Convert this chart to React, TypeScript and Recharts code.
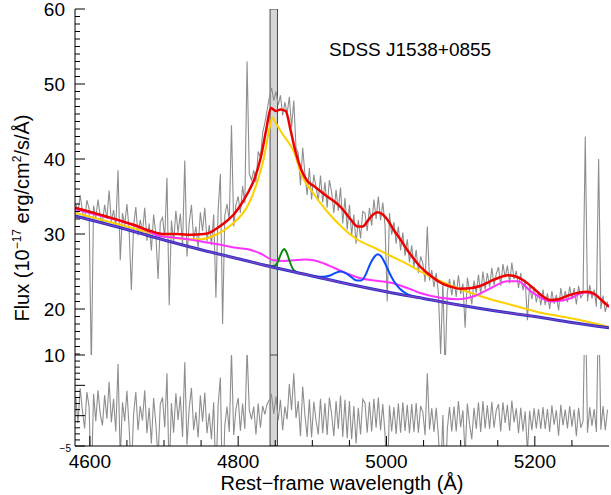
import React from 'react';
import { LineChart, Line, XAxis, YAxis, ReferenceArea } from 'recharts';

// ---------- data ----------
const WAVE_START = 4581;
const WAVE_STEP = 3;

const FLUX = [
  34.1, 32.8, 35.2, 33.0, 31.9, 34.5, 33.4, 12.0, 33.8, 32.1,
  34.6, 32.4, 31.5, 33.9, 32.0, 35.8, 31.6, 33.2, 30.9, 38.5,
  26.5, 32.8, 31.2, 34.0, 30.5, 22.5, 31.1, 33.6, 29.8, 31.9,
  30.2, 33.5, 29.1, 31.4, 27.8, 32.6, 30.0, 24.0, 31.6, 32.2,
  29.5, 37.5, 20.5, 31.8, 28.9, 33.1, 30.2, 32.7, 28.4, 39.8,
  27.0, 31.5, 33.9, 29.2, 31.0, 28.1, 32.9, 30.4, 33.5, 29.0,
  31.2, 28.5, 32.6, 21.5, 33.2, 38.0, 18.0, 32.5, 34.0, 31.8,
  44.5, 31.0, 33.9, 35.0, 32.8, 36.4, 34.1, 53.0, 38.0, 37.2,
  38.5, 36.9, 41.0, 40.2, 43.5, 44.8, 46.5, 48.2, 49.5, 47.8,
  49.0, 47.2, 48.5, 45.8, 47.6, 46.0, 48.3, 44.2, 47.8, 41.5,
  40.8, 36.5, 41.5, 38.0, 35.2, 38.8, 34.6, 37.9, 36.3, 34.4,
  37.8, 34.2, 36.9, 33.5, 37.2, 35.6, 32.8, 35.9, 33.1, 36.2,
  31.4, 34.8, 30.6, 33.9, 29.8, 32.6, 28.7, 31.9, 29.4, 33.0,
  32.8, 30.4, 33.5, 31.1, 34.6, 32.0, 35.0, 31.8, 34.2, 31.2,
  21.0, 32.8, 29.9, 31.6, 28.7, 31.0, 27.8, 30.2, 27.1, 29.3,
  26.2, 28.5, 25.6, 27.9, 24.8, 27.0, 26.1, 23.6, 31.0, 23.8,
  25.2, 22.9, 24.8, 22.1, 14.0, 23.6, 11.5, 22.3, 24.0, 21.8,
  23.9, 21.6, 24.5, 22.0, 23.4, 17.5, 24.2, 22.5, 20.6, 23.8,
  22.1, 24.6, 21.9, 25.0, 22.6, 24.8, 22.9, 25.5, 23.2, 24.7,
  25.6, 23.1, 26.0, 24.2, 25.8, 23.4, 26.2, 24.0, 25.1, 22.8,
  24.8, 22.5, 23.9, 18.5, 23.3, 21.3, 23.0, 20.9, 22.4, 20.5,
  22.6, 20.5, 22.1, 20.0, 22.4, 20.7, 21.9, 19.8, 22.8, 21.0,
  22.4, 20.9, 23.0, 21.3, 22.8, 20.6, 23.1, 21.5, 22.0, 43.0,
  21.0, 23.2, 21.4, 22.6, 20.3, 40.0, 20.0, 21.8, 19.6, 21.0,
];

const RESID = [
  3.1, -1.2, 4.5, 0.8, -2.1, 3.9, 1.5, -12.0, 3.6, -0.9,
  4.2, 0.3, -1.6, 3.4, -0.5, 5.6, -1.1, 2.8, -2.6, 8.5,
  -7.0, 2.2, -0.9, 4.1, -2.0, -9.5, 0.2, 3.9, -2.4, 1.6,
  -0.8, 4.2, -2.9, 1.3, -4.6, 2.9, -1.3, -7.2, 1.9, 3.0,
  -1.9, 7.0, -10.0, 2.1, -2.8, 3.7, -0.7, 3.2, -3.5, 8.8,
  -4.8, 1.2, 4.6, -2.4, 0.6, -3.6, 3.3, -1.0, 3.8, -2.9,
  0.4, -3.9, 2.2, -11.0, 1.8, 6.3, -14.0, -1.6, 1.5, -2.7,
  10.5, -3.2, 1.1, 2.9, -2.5, 2.0, -2.2, 11.0, 0.9, -0.6,
  1.5, -3.1, 2.0, -2.0, 1.6, 0.2, 1.9, 2.6, 3.4, 0.3,
  3.2, -0.8, 2.6, -2.4, 1.5, -0.6, 5.2, 0.9, 7.0, -0.4,
  2.4, -3.4, 4.8, 0.1, -3.5, 2.7, -3.6, 2.3, -0.8, -3.1,
  2.8, -2.9, 2.1, -3.2, 3.0, 0.2, -3.4, 2.4, -2.2, 3.3,
  -3.5, 2.6, -3.7, 2.4, -3.9, 1.6, -4.6, 1.3, -3.1, 2.7,
  2.1, -2.8, 2.3, -2.6, 2.8, -2.0, 3.0, -2.4, 1.9, -3.0,
  -12.5, 1.7, -2.6, 1.4, -3.0, 2.0, -2.8, 2.2, -2.5, 1.8,
  -2.9, 1.9, -2.7, 2.1, -2.8, 1.6, 0.6, -3.2, 7.0, -2.3,
  1.2, -2.7, 1.3, -3.3, -10.5, 0.1, -13.0, -2.2, 1.4, -2.6,
  1.5, -2.6, 2.4, -1.9, 0.9, -6.5, 2.0, -1.4, -3.9, 1.3,
  -2.2, 2.2, -2.7, 2.4, -2.1, 1.7, -2.2, 2.3, -2.0, 0.9,
  1.9, -2.6, 2.2, -1.2, 1.8, -2.5, 2.5, -1.1, 1.2, -2.9,
  1.3, -2.6, 0.7, -6.0, 0.8, -2.4, 1.2, -2.1, 1.1, -2.2,
  1.4, -2.2, 1.1, -2.7, 1.7, -1.5, 0.9, -3.3, 1.8, -1.6,
  1.0, -2.1, 1.6, -1.8, 1.0, -3.4, 1.3, -2.0, -0.9, 21.0,
  -2.8, 1.4, -1.7, 1.1, -2.7, 19.0, -2.3, 1.6, -2.4, 1.0,
];

// power-law continuum
const CONT_W = [4580, 4600, 4650, 4700, 4750, 4800, 4850, 4900, 4950, 5000, 5050, 5100, 5150, 5200, 5250, 5300];
const CONT_F = [32.4, 31.9, 30.6, 29.2, 27.9, 26.7, 25.5, 24.4, 23.3, 22.3, 21.4, 20.5, 19.7, 19.0, 18.2, 17.5];

// continuum + broad Hbeta
const YELLOW_W = [4580, 4600, 4650, 4700, 4730, 4750, 4772, 4794, 4812, 4826, 4835, 4842, 4846, 4852, 4860, 4868, 4875, 4885, 4900, 4920, 4940, 4960, 4983, 5005, 5028, 5050, 5073, 5095, 5118, 5140, 5163, 5185, 5208, 5230, 5252, 5275, 5300];
const YELLOW_F = [32.8, 32.3, 31.0, 29.7, 29.3, 29.3, 30.0, 31.5, 33.6, 37.0, 40.3, 44.0, 45.5, 44.6, 43.3, 42.2, 41.0, 38.0, 35.6, 33.0, 30.9, 29.3, 28.2, 27.1, 26.0, 24.8, 23.7, 22.8, 22.0, 21.3, 20.7, 20.1, 19.5, 19.1, 18.7, 18.2, 17.6];

// continuum + FeII
const MAGENTA_W = [4580, 4600, 4620, 4645, 4669, 4696, 4715, 4732, 4750, 4763, 4780, 4794, 4812, 4830, 4848, 4862, 4875, 4890, 4902, 4915, 4929, 4945, 4965, 4983, 5006, 5028, 5050, 5073, 5096, 5118, 5141, 5163, 5177, 5194, 5210, 5221, 5235, 5250, 5266, 5279, 5290, 5300];
const MAGENTA_F = [33.3, 32.8, 32.3, 31.6, 30.8, 29.7, 29.5, 29.3, 29.0, 28.8, 28.5, 28.2, 28.0, 27.4, 26.5, 26.4, 26.5, 26.6, 26.5, 26.1, 25.5, 24.8, 24.1, 23.8, 23.5, 22.8, 22.0, 21.5, 21.3, 21.7, 22.8, 23.7, 23.7, 22.4, 21.4, 21.0, 21.1, 21.5, 22.2, 22.0, 21.2, 20.3];

// narrow Hbeta
const GREEN_W = [4835, 4845, 4850, 4854, 4857, 4860, 4862, 4864, 4867, 4870, 4874, 4880, 4890];
const GREEN_F = [25.9, 25.7, 25.8, 26.4, 27.2, 27.8, 28.0, 27.8, 27.1, 26.2, 25.3, 24.85, 24.6];

// [OIII] doublet
const BLUE_W = [4890, 4905, 4915, 4925, 4932, 4938, 4945, 4952, 4960, 4966, 4972, 4978, 4984, 4988, 4993, 4998, 5004, 5010, 5018, 5026, 5035, 5045];
const BLUE_F = [24.6, 24.35, 24.3, 24.5, 24.85, 25.0, 24.8, 24.3, 23.8, 23.8, 24.6, 26.0, 27.0, 27.3, 27.0, 26.1, 24.8, 23.7, 22.7, 22.1, 21.7, 21.5];

// total model
const RED_W = [4580, 4620, 4660, 4682, 4700, 4718, 4736, 4754, 4764, 4772, 4783, 4794, 4803, 4812, 4821, 4830, 4838, 4844, 4851, 4857, 4864, 4871, 4877, 4885, 4893, 4902, 4911, 4920, 4929, 4940, 4952, 4961, 4968, 4975, 4982, 4988, 4995, 5002, 5010, 5018, 5027, 5036, 5045, 5055, 5064, 5073, 5086, 5100, 5115, 5127, 5140, 5152, 5163, 5172, 5185, 5200, 5212, 5221, 5232, 5245, 5260, 5271, 5282, 5292, 5300];
const RED_F = [33.5, 32.4, 31.2, 30.4, 30.0, 30.0, 29.9, 30.0, 30.3, 30.8, 31.6, 32.6, 33.8, 35.3, 37.1, 40.0, 44.0, 46.8, 46.4, 46.6, 46.4, 43.7, 41.1, 38.6, 37.1, 36.4, 35.7, 35.0, 34.4, 33.4, 31.9, 31.0, 31.0, 31.8, 32.6, 32.9, 32.6, 31.8, 30.5, 29.4, 28.0, 26.8, 25.7, 24.8, 24.1, 23.5, 23.0, 22.7, 22.8, 23.1, 23.7, 24.2, 24.5, 24.4, 23.8, 22.6, 21.6, 21.2, 21.3, 21.8, 22.2, 22.3, 21.9, 21.0, 20.3];

const MASK_RANGE = [4843, 4853];

const X_DOMAIN: [number, number] = [4580, 5300];
const Y_DOMAIN_TOP: [number, number] = [13.87, 60];
const Y_DOMAIN_RES: [number, number] = [-5, 10];
const X_TICKS = [4600, 4650, 4700, 4750, 4800, 4850, 4900, 4950, 5000, 5050, 5100, 5150, 5200, 5250];
const X_LABELS = [4600, 4800, 5000, 5200];
const Y_TICKS_TOP = [14, 15, 16, 17, 18, 19, 20, 21, 22, 23, 24, 25, 26, 27, 28, 29, 30, 31, 32, 33, 34, 35, 36, 37, 38, 39, 40, 41, 42, 43, 44, 45, 46, 47, 48, 49, 50, 51, 52, 53, 54, 55, 56, 57, 58, 59, 60];
const Y_LABELS_TOP = [20, 30, 40, 50, 60];
const Y_TICKS_RES = [-5, -4, -3, -2, -1, 0, 1, 2, 3, 4, 5, 6, 7, 8, 9, 10];

// ---------- tables ----------
const toTable = (w: number[], f: number[]) => w.map((x, i) => ({ w: x, f: f[i] }));
const spectrum = FLUX.map((f, i) => ({ w: WAVE_START + i * WAVE_STEP, f }));
const residual = RESID.map((f, i) => ({ w: WAVE_START + i * WAVE_STEP, f }));
const cont = toTable(CONT_W, CONT_F);
const yellow = toTable(YELLOW_W, YELLOW_F);
const magenta = toTable(MAGENTA_W, MAGENTA_F);
const green = toTable(GREEN_W, GREEN_F);
const blue = toTable(BLUE_W, BLUE_F);
const red = toTable(RED_W, RED_F);

const FONT = "'Liberation Sans', Arial, Helvetica, sans-serif";

// ---------- ticks ----------
const xTickUp = (withLabels: boolean) => (p: any) => {
  const v = p.payload.value;
  const major = v % 200 === 0;
  return (
    <g>
      <line x1={p.x} x2={p.x} y1={p.y} y2={p.y - (major ? 10 : 6)} stroke="#000" strokeWidth={1} />
      {withLabels && X_LABELS.includes(v) ? (
        <text x={p.x} y={p.y + 22} textAnchor="middle" fontFamily={FONT} fontSize={19} fill="#000">{v}</text>
      ) : null}
    </g>
  );
};
const xTickDown = (p: any) => {
  const major = p.payload.value % 200 === 0;
  return <line x1={p.x} x2={p.x} y1={p.y} y2={p.y + (major ? 10 : 6)} stroke="#000" strokeWidth={1} />;
};
const yTickTopLeft = (p: any) => {
  const v = p.payload.value;
  const major = v % 10 === 0;
  return (
    <g>
      <line x1={p.x} x2={p.x + (major ? 10 : 5)} y1={p.y} y2={p.y} stroke="#000" strokeWidth={1} />
      {Y_LABELS_TOP.includes(v) ? (
        <text x={p.x - 10} y={p.y} dy="0.36em" textAnchor="end" fontFamily={FONT} fontSize={19} fill="#000">{v}</text>
      ) : null}
    </g>
  );
};
const yTickTopRight = (p: any) => {
  const major = p.payload.value % 10 === 0;
  return <line x1={p.x} x2={p.x - (major ? 10 : 5)} y1={p.y} y2={p.y} stroke="#000" strokeWidth={1} />;
};
const yTickResLeft = (p: any) => {
  const v = p.payload.value;
  const major = v % 5 === 0;
  return (
    <g>
      <line x1={p.x} x2={p.x + (major ? 10 : 5)} y1={p.y} y2={p.y} stroke="#000" strokeWidth={1} />
      {v === 10 ? (
        <text x={p.x - 10} y={p.y} dy="0.36em" textAnchor="end" fontFamily={FONT} fontSize={19} fill="#000">10</text>
      ) : null}
      {v === -5 ? (
        <text x={p.x - 4} y={p.y} dy="0.55em" textAnchor="end" fontFamily={FONT} fontSize={10} fill="#000">−5</text>
      ) : null}
    </g>
  );
};
const yTickResRight = (p: any) => {
  const major = p.payload.value % 5 === 0;
  return <line x1={p.x} x2={p.x - (major ? 10 : 5)} y1={p.y} y2={p.y} stroke="#000" strokeWidth={1} />;
};

const axisLine = { stroke: '#000', strokeWidth: 1 };

const mdl = (data: any[], color: string, width: number, key: string) => (
  <Line key={key} xAxisId="b" yAxisId="l" data={data} dataKey="f" type="monotone" stroke={color} strokeWidth={width}
    dot={false} activeDot={false} isAnimationActive={false} />
);

const supStyle: React.CSSProperties = { fontSize: 12, verticalAlign: 'baseline', position: 'relative', top: -8 };

export default function App() {
  return (
    <div style={{ position: 'absolute', left: 0, top: 0, width: 611, height: 495, background: '#fff', overflow: 'hidden' }}>
      <div style={{ position: 'absolute', left: 0, top: 0 }}>
        <LineChart width={611} height={372} margin={{ top: 9, right: 2, bottom: 17, left: 0 }}>
          <XAxis xAxisId="b" type="number" dataKey="w" domain={X_DOMAIN} allowDataOverflow ticks={X_TICKS} interval={0}
            height={0} tickSize={0} tickMargin={0} tickLine={false} axisLine={axisLine} tick={xTickUp(false)} />
          <XAxis xAxisId="t" orientation="top" type="number" dataKey="w" domain={X_DOMAIN} allowDataOverflow ticks={X_TICKS} interval={0}
            height={0} tickSize={0} tickMargin={0} tickLine={false} axisLine={axisLine} tick={xTickDown} />
          <YAxis yAxisId="l" type="number" domain={Y_DOMAIN_TOP} allowDataOverflow ticks={Y_TICKS_TOP} interval={0}
            width={75} tickSize={0} tickMargin={0} tickLine={false} axisLine={axisLine} tick={yTickTopLeft} />
          <YAxis yAxisId="r" orientation="right" type="number" domain={Y_DOMAIN_TOP} allowDataOverflow ticks={Y_TICKS_TOP} interval={0}
            width={0} tickSize={0} tickMargin={0} tickLine={false} axisLine={axisLine} tick={yTickTopRight} />
          <Line xAxisId="b" yAxisId="l" data={spectrum} dataKey="f" type="linear" stroke="#8e8e8e" strokeWidth={1.1}
            dot={false} activeDot={false} isAnimationActive={false} />
          <ReferenceArea xAxisId="b" yAxisId="l" x1={MASK_RANGE[0]} x2={MASK_RANGE[1]} fill="#d6d6d6" fillOpacity={1}
            stroke="#4a4a4a" strokeWidth={1} ifOverflow="hidden" />
          {mdl(yellow, '#ffd000', 2, 'y')}
          {mdl(magenta, '#ff33ff', 2, 'm')}
          {mdl(green, '#0a8a0a', 2, 'g')}
          {mdl(blue, '#0a4cff', 2, 'bl')}
          {mdl(cont, '#2a33c8', 3, 'c1')}
          {mdl(cont, '#8a40c0', 1.2, 'c2')}
          {mdl(red, '#ee0000', 2.5, 'r')}
        </LineChart>
      </div>
      <div style={{ position: 'absolute', left: 0, top: 333 }}>
        <LineChart width={611} height={162} margin={{ top: 22, right: 2, bottom: 0, left: 0 }}>
          <XAxis xAxisId="b" type="number" dataKey="w" domain={X_DOMAIN} allowDataOverflow ticks={X_TICKS} interval={0}
            height={49} tickSize={0} tickMargin={0} tickLine={false} axisLine={axisLine} tick={xTickUp(true)} />
          <XAxis xAxisId="t" orientation="top" type="number" dataKey="w" domain={X_DOMAIN} allowDataOverflow ticks={X_TICKS} interval={0}
            height={0} tickSize={0} tickMargin={0} tickLine={false} axisLine={axisLine} tick={xTickDown} />
          <YAxis yAxisId="l" type="number" domain={Y_DOMAIN_RES} allowDataOverflow ticks={Y_TICKS_RES} interval={0}
            width={75} tickSize={0} tickMargin={0} tickLine={false} axisLine={axisLine} tick={yTickResLeft} />
          <YAxis yAxisId="r" orientation="right" type="number" domain={Y_DOMAIN_RES} allowDataOverflow ticks={Y_TICKS_RES} interval={0}
            width={0} tickSize={0} tickMargin={0} tickLine={false} axisLine={axisLine} tick={yTickResRight} />
          <Line xAxisId="b" yAxisId="l" data={residual} dataKey="f" type="linear" stroke="#8e8e8e" strokeWidth={1.1}
            dot={false} activeDot={false} isAnimationActive={false} />
          <ReferenceArea xAxisId="b" yAxisId="l" x1={MASK_RANGE[0]} x2={MASK_RANGE[1]} fill="#d6d6d6" fillOpacity={1}
            stroke="#4a4a4a" strokeWidth={1} ifOverflow="hidden" />
        </LineChart>
      </div>
      <div style={{ position: 'absolute', left: 329, top: 39, fontFamily: FONT, fontSize: 19, lineHeight: '22px', color: '#000', whiteSpace: 'nowrap' }}>
        SDSS J1538+0855
      </div>
      <div style={{ position: 'absolute', left: 75, top: 473, width: 534, textAlign: 'center', fontFamily: FONT, fontSize: 20, lineHeight: '20px', color: '#000', whiteSpace: 'nowrap' }}>
        Rest−frame wavelength (Å)
      </div>
      <div style={{ position: 'absolute', left: 22 - 200, top: 218 - 12, width: 400, height: 24, textAlign: 'center', fontFamily: FONT, fontSize: 20, lineHeight: '24px', color: '#000', whiteSpace: 'nowrap', transform: 'rotate(-90deg)', transformOrigin: '50% 50%' }}>
        Flux (10<sup style={supStyle}>−17</sup> erg/cm<sup style={supStyle}>2</sup>/s/Å)
      </div>
    </div>
  );
}
